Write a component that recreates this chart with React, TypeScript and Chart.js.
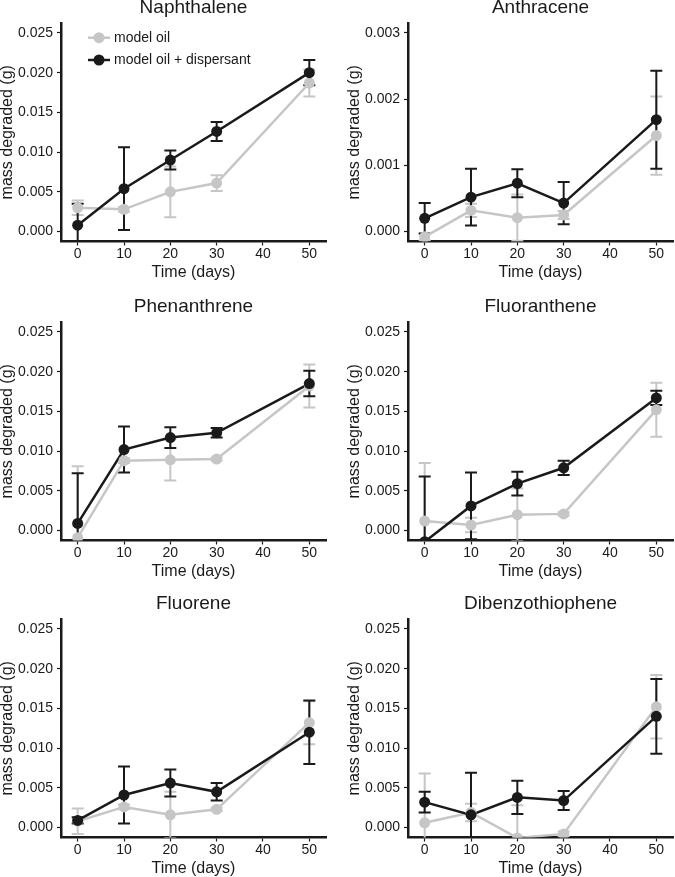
import React, { useEffect, useRef } from 'react';
import { Chart, registerables } from 'chart.js';

Chart.register(...registerables);

// ---------- data ----------
const days = [0, 10, 20, 30, 50];
const xTicks = [0, 10, 20, 30, 40, 50];
const yTicksMain = [0, 0.005, 0.01, 0.015, 0.02, 0.025];
const yTicksAnthracene = [0, 0.001, 0.002, 0.003];
const seriesLabels = ['model oil', 'model oil + dispersant'];

const naphthaleneOil = [0.003, 0.0028, 0.005, 0.0061, 0.0187];
const naphthaleneOilErr = [0.0009, 0.0003, 0.0032, 0.001, 0.0017];
const naphthaleneDisp = [0.0008, 0.0054, 0.009, 0.0126, 0.02];
const naphthaleneDispErr = [0.0027, 0.0052, 0.0012, 0.0012, 0.0016];

const anthraceneOil = [-0.00008, 0.00032, 0.00021, 0.00025, 0.00145];
const anthraceneOilErr = [0.00005, 0.0001, 0.00035, 0.00006, 0.00059];
const anthraceneDisp = [0.0002, 0.00052, 0.00073, 0.00043, 0.00169];
const anthraceneDispErr = [0.00023, 0.00043, 0.00021, 0.00032, 0.00074];

const phenanthreneOil = [-0.0009, 0.0088, 0.0089, 0.009, 0.0182];
const phenanthreneOilErr = [0.009, 0.0003, 0.0026, 0.0002, 0.0027];
const phenanthreneDisp = [0.0009, 0.0102, 0.0117, 0.0123, 0.0185];
const phenanthreneDispErr = [0.0063, 0.0029, 0.0013, 0.0006, 0.0016];

const fluorantheneOil = [0.0012, 0.0007, 0.002, 0.0021, 0.0152];
const fluorantheneOilErr = [0.0073, 0.0009, 0.0033, 0.0002, 0.0034];
const fluorantheneDisp = [-0.0014, 0.0031, 0.0059, 0.0079, 0.0167];
const fluorantheneDispErr = [0.0082, 0.0042, 0.0015, 0.0009, 0.0009];

const fluoreneOil = [0.0008, 0.0026, 0.0016, 0.0023, 0.0132];
const fluoreneOilErr = [0.0016, 0.0003, 0.0029, 0.0002, 0.0027];
const fluoreneDisp = [0.0009, 0.0041, 0.0056, 0.0045, 0.012];
const fluoreneDispErr = [0.0004, 0.0036, 0.0017, 0.0011, 0.004];

const dibenzothiopheneOil = [0.0006, 0.0019, -0.0013, -0.0008, 0.0152];
const dibenzothiopheneOilErr = [0.0062, 0.0011, 0.0041, 0.0003, 0.004];
const dibenzothiopheneDisp = [0.0032, 0.0016, 0.0038, 0.0034, 0.014];
const dibenzothiopheneDispErr = [0.0013, 0.0053, 0.0021, 0.0012, 0.0047];

// ---------- style / layout ----------
const GRAY = '#c6c6c6';
const BLACK = '#1a1a1a';
const TEXT = '#1a1a1a';
const FONT = "'Liberation Sans', Arial, Helvetica, sans-serif";
const CAP = 6;
const CANVAS_W = 340;
const CANVAS_H = 300;
const COL_X = [0, 347];
const ROW_Y = [-10, 288.8, 586.4];

type PanelDef = {
  title: string;
  oil: number[];
  oilErr: number[];
  disp: number[];
  dispErr: number[];
  yTicks: number[];
  col: number;
  row: number;
  legend: boolean;
};

const panels: PanelDef[] = [
  { title: 'Naphthalene', oil: naphthaleneOil, oilErr: naphthaleneOilErr, disp: naphthaleneDisp, dispErr: naphthaleneDispErr, yTicks: yTicksMain, col: 0, row: 0, legend: true },
  { title: 'Anthracene', oil: anthraceneOil, oilErr: anthraceneOilErr, disp: anthraceneDisp, dispErr: anthraceneDispErr, yTicks: yTicksAnthracene, col: 1, row: 0, legend: false },
  { title: 'Phenanthrene', oil: phenanthreneOil, oilErr: phenanthreneOilErr, disp: phenanthreneDisp, dispErr: phenanthreneDispErr, yTicks: yTicksMain, col: 0, row: 1, legend: false },
  { title: 'Fluoranthene', oil: fluorantheneOil, oilErr: fluorantheneOilErr, disp: fluorantheneDisp, dispErr: fluorantheneDispErr, yTicks: yTicksMain, col: 1, row: 1, legend: false },
  { title: 'Fluorene', oil: fluoreneOil, oilErr: fluoreneOilErr, disp: fluoreneDisp, dispErr: fluoreneDispErr, yTicks: yTicksMain, col: 0, row: 2, legend: false },
  { title: 'Dibenzothiophene', oil: dibenzothiopheneOil, oilErr: dibenzothiopheneOilErr, disp: dibenzothiopheneDisp, dispErr: dibenzothiopheneDispErr, yTicks: yTicksMain, col: 1, row: 2, legend: false },
];

const toPoints = (vals: number[]) => vals.map((v, i) => ({ x: days[i], y: v }));

function Panel({ p }: { p: PanelDef }) {
  const ref = useRef<HTMLCanvasElement>(null);

  useEffect(() => {
    const canvas = ref.current;
    if (!canvas) return;
    const span = p.yTicks[p.yTicks.length - 1] - p.yTicks[0];
    const yMin = p.yTicks[0] - span * 0.05;
    const yMax = p.yTicks[p.yTicks.length - 1] + span * 0.05;

    const errorBars = {
      id: 'errorBars',
      beforeDatasetsDraw(chart: any) {
        const { ctx, chartArea, scales } = chart;
        const xs = scales.x;
        const ys = scales.y;
        ctx.save();
        ctx.beginPath();
        ctx.rect(chartArea.left, chartArea.top, chartArea.right - chartArea.left, chartArea.bottom - chartArea.top);
        ctx.clip();
        const series = [
          { vals: p.oil, errs: p.oilErr, color: GRAY },
          { vals: p.disp, errs: p.dispErr, color: BLACK },
        ];
        for (const s of series) {
          ctx.strokeStyle = s.color;
          ctx.lineWidth = 2;
          s.vals.forEach((v, i) => {
            const px = xs.getPixelForValue(days[i]);
            const hi = ys.getPixelForValue(v + s.errs[i]);
            const lo = ys.getPixelForValue(v - s.errs[i]);
            ctx.beginPath();
            ctx.moveTo(px, hi);
            ctx.lineTo(px, lo);
            ctx.moveTo(px - CAP, hi);
            ctx.lineTo(px + CAP, hi);
            ctx.moveTo(px - CAP, lo);
            ctx.lineTo(px + CAP, lo);
            ctx.stroke();
          });
        }
        ctx.restore();
      },
    };

    const legendPlugin = {
      id: 'ggLegend',
      afterDraw(chart: any) {
        if (!p.legend) return;
        const { ctx } = chart;
        const items = [
          { label: seriesLabels[0], color: GRAY, y: 47.7 },
          { label: seriesLabels[1], color: BLACK, y: 70 },
        ];
        ctx.save();
        for (const it of items) {
          ctx.strokeStyle = it.color;
          ctx.lineWidth = 2.5;
          ctx.beginPath();
          ctx.moveTo(88, it.y);
          ctx.lineTo(110, it.y);
          ctx.stroke();
          ctx.fillStyle = it.color;
          ctx.beginPath();
          ctx.arc(99, it.y, 5.5, 0, Math.PI * 2);
          ctx.fill();
          ctx.fillStyle = TEXT;
          ctx.font = `14px ${FONT}`;
          ctx.textBaseline = 'middle';
          ctx.textAlign = 'left';
          ctx.fillText(it.label, 114, it.y);
        }
        ctx.restore();
      },
    };

    const pointDs = (vals: number[], color: string, order: number) => ({
      data: toPoints(vals),
      showLine: false,
      pointRadius: 5.5,
      pointBorderWidth: 0,
      pointBackgroundColor: color,
      pointBorderColor: color,
      borderColor: color,
      backgroundColor: color,
      clip: 0,
      order,
    });
    const lineDs = (vals: number[], color: string, order: number) => ({
      data: toPoints(vals),
      borderColor: color,
      borderWidth: 2.5,
      pointRadius: 0,
      fill: false,
      tension: 0,
      clip: 0,
      order,
    });

    const chart = new Chart(canvas, {
      type: 'line',
      data: {
        datasets: [
          pointDs(p.disp, BLACK, 1),
          pointDs(p.oil, GRAY, 2),
          lineDs(p.disp, BLACK, 3),
          lineDs(p.oil, GRAY, 4),
        ] as any,
      },
      options: {
        animation: false,
        responsive: false,
        maintainAspectRatio: false,
        events: [],
        layout: { padding: { left: 0, right: 14, top: 0, bottom: 0 } },
        plugins: {
          legend: { display: false },
          tooltip: { enabled: false },
          title: {
            display: true,
            text: p.title,
            fullSize: false,
            color: TEXT,
            font: { family: FONT, size: 19, weight: 'normal', lineHeight: 1 },
            padding: { top: 8, bottom: 6 },
          },
        },
        scales: {
          x: {
            type: 'linear',
            min: -3.6,
            max: 53.6,
            z: 1,
            afterBuildTicks: (s: any) => {
              s.ticks = xTicks.map((v) => ({ value: v }));
            },
            afterFit: (s: any) => {
              s.height = 48.5;
            },
            grid: {
              display: true,
              drawOnChartArea: false,
              drawTicks: true,
              tickLength: 4,
              tickWidth: 1.2,
              tickColor: BLACK,
              color: BLACK,
            },
            border: { display: true, color: BLACK, width: 2.5 },
            ticks: {
              color: TEXT,
              padding: 2,
              maxRotation: 0,
              autoSkip: false,
              font: { family: FONT, size: 14, lineHeight: 1 },
              callback: (v: any) => String(v),
            },
            title: {
              display: true,
              text: 'Time (days)',
              color: TEXT,
              font: { family: FONT, size: 16, lineHeight: 1 },
              padding: { top: 0, bottom: 9.5 },
            },
          },
          y: {
            type: 'linear',
            min: yMin,
            max: yMax,
            z: 1,
            afterBuildTicks: (s: any) => {
              s.ticks = p.yTicks.map((v) => ({ value: v }));
            },
            afterFit: (s: any) => {
              s.width = 61;
            },
            grid: {
              display: true,
              drawOnChartArea: false,
              drawTicks: true,
              tickLength: 4,
              tickWidth: 1.2,
              tickColor: BLACK,
              color: BLACK,
            },
            border: { display: true, color: BLACK, width: 2.5 },
            ticks: {
              color: TEXT,
              padding: 4,
              autoSkip: false,
              font: { family: FONT, size: 14, lineHeight: 1 },
              callback: (v: any) => Number(v).toFixed(3),
            },
            title: {
              display: true,
              text: 'mass degraded (g)',
              color: TEXT,
              font: { family: FONT, size: 16, lineHeight: 1 },
              padding: { top: 0, bottom: 0 },
            },
          },
        },
      } as any,
      plugins: [errorBars, legendPlugin],
    });

    return () => chart.destroy();
  }, [p]);

  return (
    <canvas
      ref={ref}
      width={CANVAS_W}
      height={CANVAS_H}
      style={{ position: 'absolute', left: COL_X[p.col], top: ROW_Y[p.row], width: CANVAS_W, height: CANVAS_H }}
    />
  );
}

export default function App() {
  return (
    <div
      style={{
        position: 'fixed',
        left: 0,
        top: 0,
        width: 675,
        height: 877,
        overflow: 'hidden',
        background: '#ffffff',
      }}
    >
      {panels.map((p) => (
        <Panel key={p.title} p={p} />
      ))}
    </div>
  );
}
